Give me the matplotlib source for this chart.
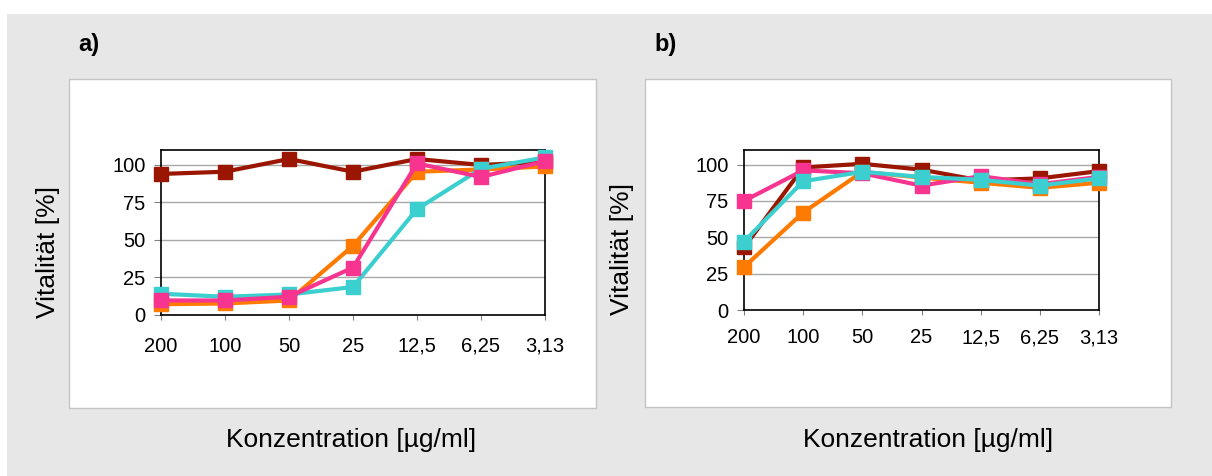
import numpy as np
import matplotlib.pyplot as plt
from matplotlib.patches import Rectangle

plt.rcParams['font.family'] = ['Liberation Sans', 'DejaVu Sans']

# ============ data ============
konz = ["200", "100", "50", "25", "12,5", "6,25", "3,13"]

a_rot = [94, 95.5, 104, 95.5, 104, 100, 102]
a_orange = [7, 7.5, 9.5, 46, 95.5, 97, 99]
a_cyan = [14, 12, 13.5, 18.5, 70.5, 97.5, 105]
a_pink = [9.5, 9.5, 12, 31.5, 101, 92, 102.5]

b_rot = [43, 98, 100.5, 96.5, 89, 90.5, 95.5]
b_orange = [29.5, 67, 95, 91, 87.5, 84, 87.5]
b_pink = [75, 96, 94, 85.5, 92, 86.5, 91.5]
b_cyan = [47, 88.5, 95, 91.5, 89.5, 85.5, 90.5]

c_rot = "#9a1600"
c_orange = "#ff7a00"
c_pink = "#f7348f"
c_cyan = "#3ccfcf"

W, H = 1212, 476
fig = plt.figure(figsize=(W / 100, H / 100), dpi=100)

def px(x0, y0, x1, y1):
    # pixel box -> figure fraction
    return [x0 / W, 1 - y1 / H, (x1 - x0) / W, (y1 - y0) / H]

# grey background + white panels
fig.patches.append(Rectangle((7 / W, 0), 1, 1 - 14 / H, transform=fig.transFigure,
                             facecolor="#e7e7e7", edgecolor="none", zorder=-2))
for (x0, y0, x1, y1) in [(69, 79, 596, 408), (645, 79, 1171, 407)]:
    fig.patches.append(Rectangle((x0 / W, 1 - y1 / H), (x1 - x0) / W, (y1 - y0) / H,
                                 transform=fig.transFigure, facecolor="white",
                                 edgecolor="#c4c4c4", lw=1, zorder=-1))

def panel(box, series, xpad):
    ax = fig.add_axes(px(*box))
    ax.set_zorder(5)
    ax.set_facecolor("white")
    x = np.arange(len(konz))
    for ys, col in series:
        ax.plot(x, ys, color=col, lw=3, marker="s", ms=9.5, mec=col, mfc=col,
                clip_on=False, zorder=3)
    ax.set_xlim(0, len(konz) - 1)
    ax.set_ylim(0, 110)
    ax.set_yticks([0, 25, 50, 75, 100])
    ax.set_xticks(x)
    ax.set_xticklabels(konz)
    ax.yaxis.grid(True, color="#a8a8a8", lw=1)
    ax.set_axisbelow(True)
    for s in ax.spines.values():
        s.set_linewidth(1.2)
        s.set_color("black")
    ax.tick_params(axis="y", length=5, width=0.8, color="#808080", pad=6, labelsize=14.5)
    ax.tick_params(axis="x", length=3.5, width=0.8, color="#808080", pad=xpad, labelsize=14.5)
    return ax

ax1 = panel((161, 150, 545, 314.7),
            [(a_rot, c_rot), (a_orange, c_orange), (a_cyan, c_cyan), (a_pink, c_pink)], 12.5)
ax2 = panel((744, 150, 1099, 310),
            [(b_rot, c_rot), (b_orange, c_orange), (b_pink, c_pink), (b_cyan, c_cyan)], 9.5)

# labels
fig.text(78 / W, 1 - 44 / H, "a)", fontsize=17, fontweight="bold", va="center", ha="left")
fig.text(654 / W, 1 - 44 / H, "b)", fontsize=17, fontweight="bold", va="center", ha="left")

fig.text(47.5 / W, 1 - 252 / H, "Vitalität [%]", rotation=90, fontsize=19, ha="center", va="center")
fig.text(622.5 / W, 1 - 249 / H, "Vitalität [%]", rotation=90, fontsize=19, ha="center", va="center")

fig.text(351 / W, 1 - 440 / H, "Konzentration [µg/ml]", fontsize=19, ha="center", va="center")
fig.text(928 / W, 1 - 440 / H, "Konzentration [µg/ml]", fontsize=19, ha="center", va="center")

plt.savefig("out.png", dpi=100, facecolor="white")
